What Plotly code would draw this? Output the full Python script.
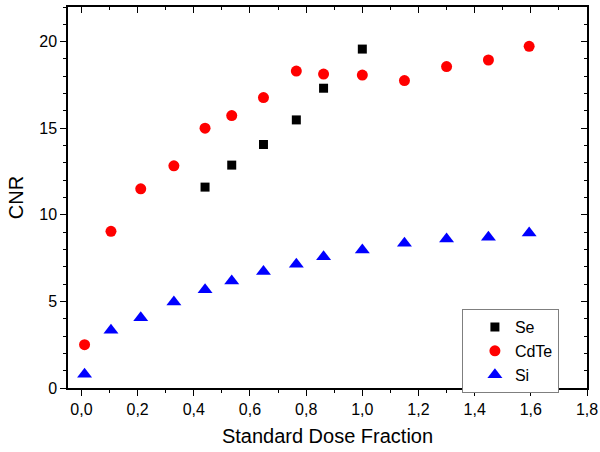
import plotly.graph_objects as go

se_x = [0.44, 0.535, 0.648, 0.765, 0.862, 1.0]
se_y = [11.6, 12.87, 14.06, 15.48, 17.31, 19.57]

cdte_x = [0.011, 0.105, 0.211, 0.329, 0.44, 0.535, 0.648, 0.765, 0.862, 1.0, 1.15, 1.30, 1.449, 1.594]
cdte_y = [2.5, 9.05, 11.5, 12.83, 15.0, 15.73, 16.77, 18.3, 18.13, 18.07, 17.75, 18.56, 18.94, 19.73]

si_x = [0.011, 0.105, 0.211, 0.329, 0.44, 0.535, 0.648, 0.765, 0.862, 1.0, 1.15, 1.30, 1.449, 1.594]
si_y = [0.8, 3.34, 4.05, 4.97, 5.68, 6.18, 6.72, 7.14, 7.58, 7.97, 8.36, 8.6, 8.70, 8.95]

x_tickvals = [0.0, 0.2, 0.4, 0.6, 0.8, 1.0, 1.2, 1.4, 1.6, 1.8]
x_ticktext = ["0,0", "0,2", "0,4", "0,6", "0,8", "1,0", "1,2", "1,4", "1,6", "1,8"]
y_tickvals = [0, 5, 10, 15, 20]
y_ticktext = ["0", "5", "10", "15", "20"]

FONT = "Liberation Sans, Arial, sans-serif"

fig = go.Figure()
fig.add_trace(go.Scatter(x=se_x, y=se_y, mode="markers", name="Se",
                         marker=dict(symbol="square", size=9, color="black")))
fig.add_trace(go.Scatter(x=cdte_x, y=cdte_y, mode="markers", name="CdTe",
                         marker=dict(symbol="circle", size=11, color="#ff0000")))
fig.add_trace(go.Scatter(x=si_x, y=si_y, mode="markers", name="Si",
                         marker=dict(symbol="triangle-up", size=13, color="#0000ff")))

xr = [-0.048, 1.8]
yr = [0, 22]

fig.update_layout(
    width=600, height=452,
    margin=dict(l=68, r=13, t=7, b=64, autoexpand=False),
    paper_bgcolor="white", plot_bgcolor="white",
    font=dict(family=FONT, color="black", size=16),
    showlegend=True,
    legend=dict(x=0.759, y=0.207, xanchor="left", yanchor="top",
                bordercolor="#7f7f7f", borderwidth=1, bgcolor="white",
                font=dict(size=16, family=FONT), indentation=12,
                tracegroupgap=0, itemsizing="trace"),
    xaxis=dict(range=xr, tickmode="array", tickvals=x_tickvals, ticktext=x_ticktext,
               ticks="outside", ticklen=6, tickwidth=1, tickcolor="black",
               showline=True, linecolor="black", linewidth=1.5, mirror=False,
               showgrid=False, zeroline=False, automargin=False,
               minor=dict(ticks="outside", ticklen=3, tickcolor="black", dtick=0.1, tick0=0, showgrid=False),
               title=dict(text="Standard Dose Fraction", font=dict(size=20), standoff=12),
               tickfont=dict(size=16)),
    yaxis=dict(range=yr, tickmode="array", tickvals=y_tickvals, ticktext=y_ticktext,
               ticks="outside", ticklen=6, tickwidth=1, tickcolor="black",
               showline=True, linecolor="black", linewidth=1.5, mirror=False,
               showgrid=False, zeroline=False, automargin=False,
               minor=dict(ticks="outside", ticklen=3, tickcolor="black", dtick=1, tick0=0, showgrid=False),
               title=dict(text="CNR", font=dict(size=20), standoff=10),
               tickfont=dict(size=16)),
    xaxis2=dict(range=xr, overlaying="x", side="top", tickmode="array", tickvals=x_tickvals,
                ticks="inside", ticklen=6, tickcolor="black", showticklabels=False, automargin=False,
                showline=True, linecolor="black", linewidth=1.5, showgrid=False, zeroline=False,
                minor=dict(ticks="inside", ticklen=3, tickcolor="black", dtick=0.1, tick0=0, showgrid=False)),
    yaxis2=dict(range=yr, overlaying="y", side="right", tickmode="array", tickvals=y_tickvals,
                ticks="inside", ticklen=6, tickcolor="black", showticklabels=False, automargin=False,
                showline=True, linecolor="black", linewidth=1.5, showgrid=False, zeroline=False,
                minor=dict(ticks="inside", ticklen=3, tickcolor="black", dtick=1, tick0=0, showgrid=False)),
)
fig.add_trace(go.Scatter(x=[None], y=[None], xaxis="x2", yaxis="y2", showlegend=False, hoverinfo="skip"))

fig.write_html("out.html", config={"displayModeBar": False},
               post_script="document.body.style.margin='0';document.body.style.padding='0';")
